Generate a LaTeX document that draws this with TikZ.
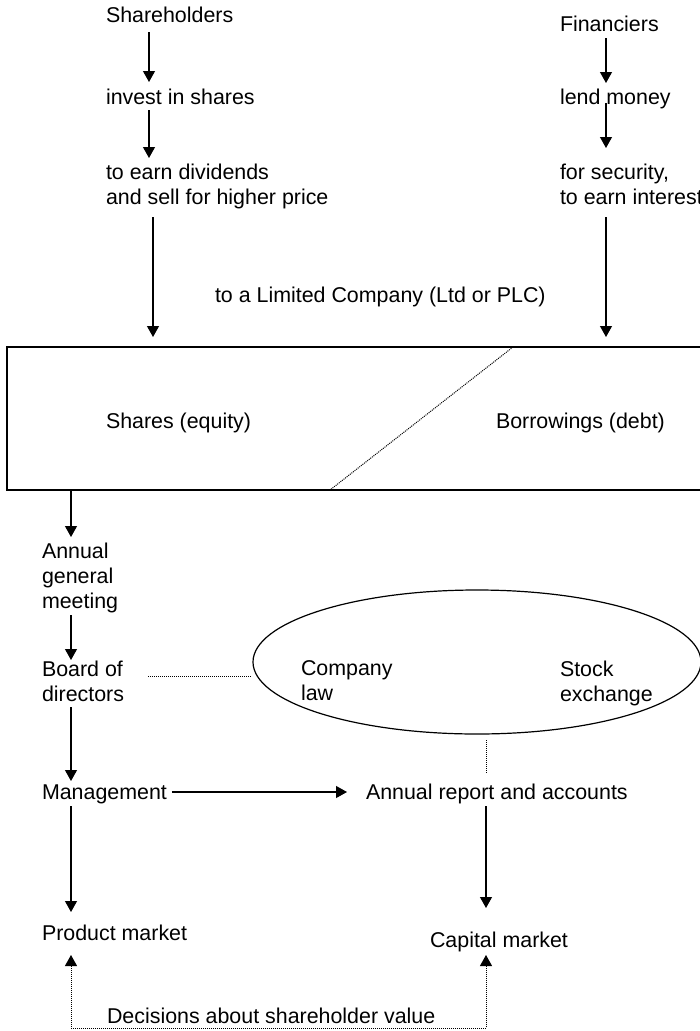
\documentclass[tikz,border=0pt]{standalone}
\usepackage{fontspec}
\setmainfont{Liberation Sans}
\usetikzlibrary{arrows.meta,calc,shapes.geometric}
\begin{document}
\begin{tikzpicture}[x=1pt,y=-1pt,
  every node/.style={inner sep=0pt,outer sep=0pt},
  txt/.style={font=\fontsize{21.4}{25}\selectfont,anchor=base west},
  mtxt/.style={font=\fontsize{21.4}{25}\selectfont,anchor=north west,align=left},
  arr/.style={line width=1.2pt,-{Triangle[width=12pt,length=11pt]}},
  dotln/.style={line width=1pt,dash pattern=on 1pt off 1pt},
  dotarr/.style={dotln,{Triangle[width=12pt,length=11pt]}-{Triangle[width=12pt,length=11pt]}}
  ]
\useasboundingbox (0,0) rectangle (700,1031);

% column coordinates
\coordinate (cA) at (149,0);
\coordinate (cB) at (153,0);
\coordinate (cF) at (606,0);
\coordinate (cL) at (71,0);
\coordinate (cR) at (486,0);

% shapes
\node[draw,line width=1.4pt,minimum width=705pt,minimum height=143pt] (box) at (359.5,418.5) {};
\node[ellipse,draw,line width=1.2pt,minimum width=448pt,minimum height=144pt] (ell) at (477,662) {};

% texts
\node[txt] (sh) at (106,22.5) {Shareholders};
\node[txt] (inv) at (106,104) {invest in shares};
\node[mtxt] (earn) at (106,164) {to earn dividends\\and sell for higher price};
\node[txt] (fin) at (560,31) {Financiers};
\node[txt] (lend) at (560,104) {lend money};
\node[mtxt] (sec) at (560,164) {for security,\\to earn interest};
\node[txt] (ltd) at (215,302) {to a Limited Company (Ltd or PLC)};
\node[txt] (eq) at (106,428) {Shares (equity)};
\node[txt] (debt) at (496,428) {Borrowings (debt)};
\node[mtxt] (agm) at (42,543) {Annual\\general\\meeting};
\node[mtxt] (bod) at (42,661) {Board of\\directors};
\node[mtxt] (cl) at (301,661) {Company\\law};
\node[mtxt] (se) at (560,661) {Stock\\exchange};
\node[txt] (mgmt) at (42,799) {Management};
\node[txt] (arpt) at (366,799) {Annual report and accounts};
\node[txt] (pm) at (42,940) {Product market};
\node[txt] (cm) at (430,947) {Capital market};
\node[txt] (dec) at (107,1023) {Decisions about shareholder value};

% connectors
\draw[arr] ($(sh.base -| cA)+(0,9.5)$) -- ($(inv.base -| cA)+(0,-22)$);
\draw[arr] ($(inv.base -| cA)+(0,6)$) -- ($(earn.north -| cA)+(0,-6)$);
\draw[arr] ($(earn.north -| cB)+(0,53)$) -- ($(box.north -| cB)+(0,-10)$);
\draw[arr] ($(fin.base -| cF)+(0,7)$) -- ($(lend.base -| cF)+(0,-21)$);
\draw[arr] ($(lend.base -| cF)+(0,-1)$) -- ($(sec.north -| cF)+(0,-16)$);
\draw[arr] ($(sec.north -| cF)+(0,53)$) -- ($(box.north -| cF)+(0,-10)$);
\draw[dotln] ($(box.north west)+(506,0)$) -- ($(box.south west)+(323,0)$);
\draw[arr] (box.south -| cL) -- ($(agm.north -| cL)+(0,-6)$);
\draw[arr] ($(agm.north -| cL)+(0,72)$) -- ($(bod.north -| cL)+(0,-1)$);
\draw[dotln] ($(bod.north west)+(106,15)$) -- ($(ell.west)+(-2,14)$);
\draw[arr] ($(bod.north -| cL)+(0,46)$) -- ($(mgmt.base -| cL)+(0,-18)$);
\draw[arr] ($(mgmt.base east)+(5,-7)$) -- ($(arpt.base west)+(-19,-7)$);
\draw[dotln] ($(ell.south -| cR)+(0,6)$) -- ($(arpt.base -| cR)+(0,-26)$);
\draw[arr] ($(arpt.base -| cR)+(0,7)$) -- ($(cm.base -| cR)+(0,-39)$);
\draw[arr] ($(mgmt.base -| cL)+(0,7)$) -- ($(pm.base -| cL)+(0,-28)$);
\draw[dotarr] ($(pm.base -| cL)+(0,15)$) |- ($(dec.base -| cR)+(0,5)$) -- ($(cm.base -| cR)+(0,8)$);
\end{tikzpicture}
\end{document}
